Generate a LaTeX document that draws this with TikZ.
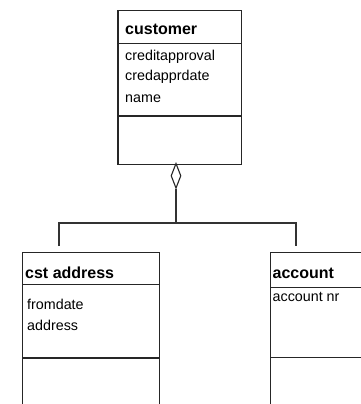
\documentclass[tikz,border=0pt]{standalone}
\usepackage{fontspec}
\setmainfont{Liberation Sans}
\usetikzlibrary{shapes.geometric}

\tikzset{
  classbox/.style={draw=black!85, line width=1.2pt, rectangle, inner sep=0pt, anchor=north west},
  divider/.style={draw=black!85, line width=1.2pt},
  link/.style={draw=black!80, line width=1.2pt},
  title/.style={anchor=base west, inner sep=0pt, font=\fontsize{16}{19}\selectfont\bfseries},
  attr/.style={anchor=base west, inner sep=0pt, font=\fontsize{14.3}{17}\selectfont},
  aggdiamond/.style={diamond, draw=black!85, line width=1.1pt, fill=white, inner sep=0pt,
                     minimum width=10pt, minimum height=25pt, shape aspect=0.4}
}

\begin{document}
\begin{tikzpicture}[x=1pt, y=-1pt]
  \useasboundingbox (0,0) rectangle (361,404);
  \clip (0,0) rectangle (361,404);

  % class customer
  \node[classbox, minimum width=123.4pt, minimum height=154pt] (cust) at (117.3,10) {};
  \draw[divider] (117.3,43.3) -- (240.7,43.3);
  \draw[divider] (117.3,116) -- (240.7,116);
  \node[title] (custname) at (125,35) {customer};
  \node[attr] (custa1) at (125,60) {creditapproval};
  \node[attr] (custa2) at (125,81) {credapprdate};
  \node[attr] (custa3) at (125,102) {name};

  % class cst address
  \node[classbox, minimum width=136.7pt, minimum height=170pt] (addr) at (22,252) {};
  \draw[divider] (22,284.5) -- (158.7,284.5);
  \draw[divider] (22,358) -- (158.7,358);
  \node[title] (addrname) at (25,278) {cst address};
  \node[attr] (addra1) at (27,309) {fromdate};
  \node[attr] (addra2) at (27,330) {address};

  % class account
  \node[classbox, minimum width=110pt, minimum height=170pt] (acct) at (270,252) {};
  \draw[divider] (270,287.3) -- (380,287.3);
  \draw[divider] (270,357.5) -- (380,357.5);
  \node[title] (acctname) at (272.5,278) {account};
  \node[attr] (accta1) at (272.5,301.5) {account nr};

  % aggregation: hollow diamond at customer, tree branching to both parts
  \node[aggdiamond] (agg) at (176,175.8) {};
  \coordinate (busL) at (59,223);
  \coordinate (busR) at (296,223);
  \coordinate (endL) at (59,246);
  \coordinate (endR) at (296,246);
  \draw[link] (agg.south) -- (agg.south |- busL);
  \draw[link] (endL) -- (busL) -- (busR) -- (endR);
\end{tikzpicture}
\end{document}
